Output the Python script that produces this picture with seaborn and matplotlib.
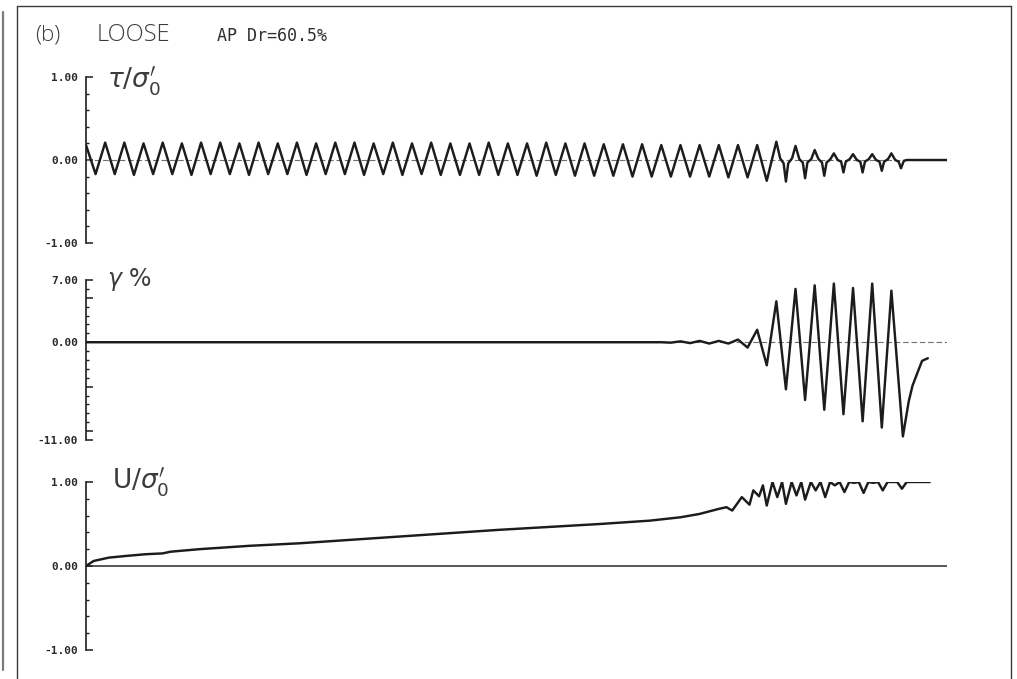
import matplotlib
matplotlib.use("Agg")
import matplotlib.pyplot as plt
from matplotlib.lines import Line2D
from matplotlib.ticker import MultipleLocator
import pandas as pd
import seaborn as sns

# ---------------------------------------------------------------------------
# Cyclic simple-shear record, loose sand (AP, Dr = 60.5 %)
# x axis: loading cycle number
# ---------------------------------------------------------------------------

# shear stress ratio tau/sigma0' : positive peaks (whole cycles) and
# negative peaks (half cycles), cycles 0 .. 42
tau_peaks = [
    0.18, 0.21, 0.21, 0.20, 0.21, 0.20, 0.21, 0.21, 0.20, 0.21,
    0.20, 0.21, 0.20, 0.21, 0.21, 0.20, 0.21, 0.20, 0.21, 0.20,
    0.20, 0.21, 0.20, 0.20, 0.21, 0.20, 0.20, 0.19, 0.19, 0.19,
    0.18, 0.18, 0.18, 0.18, 0.18, 0.18, 0.22, 0.17, 0.12, 0.08,
    0.07, 0.07, 0.08,
]
tau_troughs = [
    -0.17, -0.17, -0.18, -0.17, -0.17, -0.18, -0.17, -0.17, -0.18, -0.17,
    -0.17, -0.18, -0.17, -0.17, -0.18, -0.17, -0.18, -0.17, -0.18, -0.18,
    -0.18, -0.18, -0.18, -0.19, -0.18, -0.19, -0.19, -0.19, -0.20, -0.20,
    -0.20, -0.20, -0.20, -0.21, -0.21, -0.25, -0.26, -0.22, -0.19, -0.15,
    -0.15, -0.13, -0.10,
]
# near-zero plateaus between the stress spikes after liquefaction
tau_shoulder_cycle = [
    36.2, 36.38, 36.62, 36.82, 37.2, 37.38, 37.62, 37.82,
    38.2, 38.38, 38.62, 38.82, 39.2, 39.38, 39.62, 39.82,
    40.2, 40.38, 40.62, 40.82, 41.2, 41.38, 41.62, 41.82,
    42.2, 42.38, 42.65, 42.8, 44.9,
]
tau_shoulder_value = [
    0.02, -0.04, -0.04, 0.02, 0.01, -0.03, -0.03, 0.01,
    0.01, -0.03, -0.03, 0.01, 0.00, -0.02, -0.02, 0.01,
    0.00, -0.02, -0.02, 0.01, 0.00, -0.02, -0.02, 0.01,
    0.00, -0.02, -0.01, 0.00, 0.00,
]

# shear strain gamma (%)
gamma_cycle = [
    0.0, 30.0, 30.5, 31.0, 31.5, 32.0, 32.5, 33.0, 33.5, 34.0, 34.5,
    35.0, 35.5, 36.0, 36.5, 37.0, 37.5, 38.0, 38.5, 39.0, 39.5,
    40.0, 40.5, 41.0, 41.5, 42.0, 42.6, 42.9, 43.1, 43.4, 43.6, 43.9,
]
gamma_pct = [
    0.0, 0.0, -0.05, 0.1, -0.1, 0.15, -0.15, 0.15, -0.15, 0.3, -0.6,
    1.4, -2.6, 4.6, -5.3, 6.0, -6.5, 6.4, -7.6, 6.6, -8.1,
    6.1, -8.9, 6.6, -9.6, 5.8, -10.6, -6.7, -4.9, -3.2, -2.1, -1.8,
]

# excess pore pressure ratio u/sigma0'
u_cycle = [
    0.0, 0.4, 1.2, 2.1, 3.1, 4.0, 4.4, 5.9, 8.5, 11.1, 16.3, 21.5,
    26.8, 29.4, 31.0, 32.0, 33.0, 33.4, 33.7, 34.2, 34.6, 34.8, 35.1,
    35.3, 35.5, 35.8, 36.05, 36.3, 36.5, 36.8, 37.05, 37.3, 37.5, 37.8,
    38.05, 38.3, 38.55, 38.8, 39.05, 39.3, 39.55, 39.8, 40.05, 40.3,
    40.55, 40.8, 41.05, 41.3, 41.55, 41.8, 42.05, 42.3, 42.55, 42.8, 44.0,
]
u_ratio = [
    0.0, 0.06, 0.10, 0.12, 0.14, 0.15, 0.17, 0.20, 0.24, 0.27, 0.35, 0.43,
    0.50, 0.54, 0.58, 0.62, 0.68, 0.70, 0.66, 0.82, 0.73, 0.90, 0.83,
    0.96, 0.72, 1.00, 0.82, 1.00, 0.74, 1.00, 0.84, 1.00, 0.79, 1.00,
    0.90, 1.00, 0.82, 1.00, 0.96, 1.00, 0.88, 1.00, 0.99, 1.00,
    0.87, 1.00, 0.99, 1.00, 0.90, 1.00, 1.00, 1.00, 0.92, 1.00, 1.00,
]

# axis tick labels
tau_ticks = [1.0, 0.0, -1.0]
tau_ticklabels = ["1.00", "0.00", "-1.00"]
gamma_ticks = [7.0, 5.0, 0.0, -5.0, -10.0, -11.0]
gamma_ticklabels = ["7.00", "", "0.00", "", "", "-11.00"]
u_ticks = [1.0, 0.0, -1.0]
u_ticklabels = ["1.00", "0.00", "-1.00"]

# ---------------------------------------------------------------------------
tau_df = pd.DataFrame({
    "cycle": [float(k) for k in range(len(tau_peaks))]
             + [k + 0.5 for k in range(len(tau_troughs))]
             + tau_shoulder_cycle,
    "value": tau_peaks + tau_troughs + tau_shoulder_value,
}).sort_values("cycle")
gamma_df = pd.DataFrame({"cycle": gamma_cycle, "value": gamma_pct})
u_df = pd.DataFrame({"cycle": u_cycle, "value": u_ratio})

sns.set_theme(style="white")
plt.rcParams["font.family"] = ["DejaVu Sans"]

W, H = 1017, 679
fig = plt.figure(figsize=(W / 100, H / 100), dpi=100)
fig.patch.set_facecolor("white")

INK = "#1c1c1c"
X0, X1 = 86, 947
XMAX = 44.9


def add_panel(top, bottom):
    return fig.add_axes([X0 / W, 1 - bottom / H, (X1 - X0) / W, (bottom - top) / H])


panels = [
    (add_panel(77, 243), tau_df, (-1, 1), tau_ticks, tau_ticklabels, 0.2, "dash"),
    (add_panel(280, 440), gamma_df, (-11, 7), gamma_ticks, gamma_ticklabels, 1.0, "dash"),
    (add_panel(482, 650), u_df, (-1, 1), u_ticks, u_ticklabels, 0.2, "solid"),
]

for ax, df, ylim, ticks, labels, minor, zstyle in panels:
    ax.set_facecolor("none")
    if zstyle == "dash":
        ax.axhline(0, color="#707070", lw=0.8, dashes=(5, 2.5), zorder=1)
    else:
        ax.axhline(0, color="#2a2a2a", lw=1.1, zorder=1)
    sns.lineplot(data=df, x="cycle", y="value", ax=ax, color=INK, linewidth=1.75,
                 sort=False, estimator=None, zorder=3)
    for ln in ax.get_lines():
        ln.set_solid_joinstyle("round")
        ln.set_solid_capstyle("round")
    ax.set_xlim(0, XMAX)
    ax.set_ylim(*ylim)
    ax.set_xlabel("")
    ax.set_ylabel("")
    ax.set_xticks([])
    ax.set_yticks(ticks)
    ax.set_yticklabels(labels, family="DejaVu Sans Mono", fontweight="bold",
                       fontsize=8, color="#2a2a2a")
    ax.yaxis.set_minor_locator(MultipleLocator(minor))
    ax.tick_params(axis="y", which="major", direction="in", length=5, width=1.1,
                   color=INK, pad=5.5, left=True)
    ax.tick_params(axis="y", which="minor", direction="in", length=2.5, width=1.0,
                   color=INK, left=True)
    for side in ("top", "right", "bottom"):
        ax.spines[side].set_visible(False)
    ax.spines["left"].set_color(INK)
    ax.spines["left"].set_linewidth(1.2)
    ax.grid(False)

# page frame
frame_kw = dict(transform=fig.transFigure, color="#3a3a3a", lw=1.0)
fig.add_artist(Line2D([17 / W, 1011 / W], [1 - 6 / H, 1 - 6 / H], **frame_kw))
fig.add_artist(Line2D([17 / W, 17 / W], [1 - 6 / H, 0], **frame_kw))
fig.add_artist(Line2D([1011 / W, 1011 / W], [1 - 6 / H, 0], **frame_kw))
fig.add_artist(Line2D([3 / W, 3 / W], [1 - 12 / H, 1 - 670 / H],
                      transform=fig.transFigure, color="#7a7a7a", lw=1.6))

# headings
hand = dict(color="#3c3c3c", fontweight="light")
fig.text(35 / W, 1 - 41 / H, "(b)", fontsize=16, family=["Open Sans", "DejaVu Sans"], **hand)
fig.text(97 / W, 1 - 41 / H, "LOOSE", fontsize=17, family=["Open Sans", "DejaVu Sans"], **hand)
fig.text(217 / W, 1 - 41 / H, "AP Dr=60.5%", fontsize=12, family="DejaVu Sans Mono",
         color="#2e2e2e")

# panel quantity labels
fig.text(107 / W, 1 - 88 / H, r"$\tau/\sigma_0^{\prime}$", fontsize=19, color="#3c3c3c")
fig.text(107 / W, 1 - 286 / H, r"$\gamma$ %", fontsize=17, color="#3c3c3c")
fig.text(112 / W, 1 - 489 / H, r"$\mathrm{U}/\sigma_0^{\prime}$", fontsize=19, color="#3c3c3c")

fig.savefig("out.png", dpi=100, facecolor="white")
